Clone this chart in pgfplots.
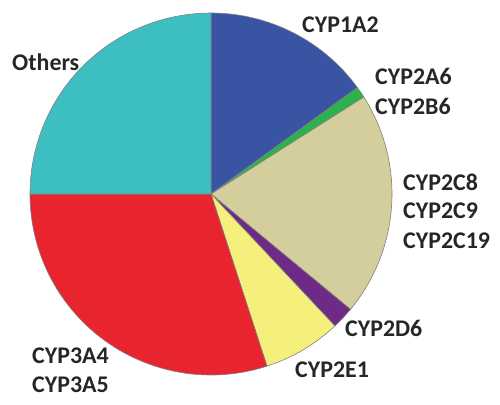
\documentclass[border=0pt]{standalone}
\usepackage{pgfplots}
\pgfplotsset{compat=1.18}
\usepackage{fontspec}
\setmainfont{Carlito}

\definecolor{cypA}{HTML}{3A54A4}
\definecolor{cypB}{HTML}{2BB24C}
\definecolor{cypC}{HTML}{D4CD9C}
\definecolor{cypD}{HTML}{6D2A86}
\definecolor{cypE}{HTML}{F4F07B}
\definecolor{cypF}{HTML}{E8242F}
\definecolor{cypG}{HTML}{3DBFC2}
\definecolor{lbltext}{HTML}{262626}

\tikzset{lbl/.style={anchor=west, text=lbltext, inner sep=0pt,
    font=\bfseries\fontsize{24}{24}\selectfont}}

\begin{document}
\begin{tikzpicture}
\begin{axis}[
  x=1bp, y=1bp,
  xmin=-211, xmax=289, ymin=-210, ymax=194,
  hide axis, clip=false,
]
% shares in percent, clockwise from 12 o'clock
\pgfplotsextra{
  \path (axis cs:-211,-210) rectangle (axis cs:289,194);
  \gdef\angA{90}
  \foreach \p/\c in {15/cypA, 1/cypB, 20/cypC, 2/cypD, 7/cypE, 30/cypF, 25/cypG}{
    \pgfmathsetmacro\angB{\angA-3.6*\p}
    \filldraw[fill=\c, draw=black!50, line width=0.6bp]
      (axis cs:0,0) -- ++(\angA:181bp)
      arc[start angle=\angA, end angle=\angB, radius=181bp] -- cycle;
    \xdef\angA{\angB}
  }
}
\node[lbl] at (axis cs:91,169) {CYP1A2};
\node[lbl] at (axis cs:-199,132) {Others};
\node[lbl] at (axis cs:164,118) {CYP2A6};
\node[lbl] at (axis cs:164,88) {CYP2B6};
\node[lbl] at (axis cs:192,12) {CYP2C8};
\node[lbl] at (axis cs:192,-17) {CYP2C9};
\node[lbl] at (axis cs:192,-47) {CYP2C19};
\node[lbl] at (axis cs:134,-134) {CYP2D6};
\node[lbl] at (axis cs:84,-176) {CYP2E1};
\node[lbl] at (axis cs:-179,-162) {CYP3A4};
\node[lbl] at (axis cs:-179,-191) {CYP3A5};
\end{axis}
\end{tikzpicture}
\end{document}
